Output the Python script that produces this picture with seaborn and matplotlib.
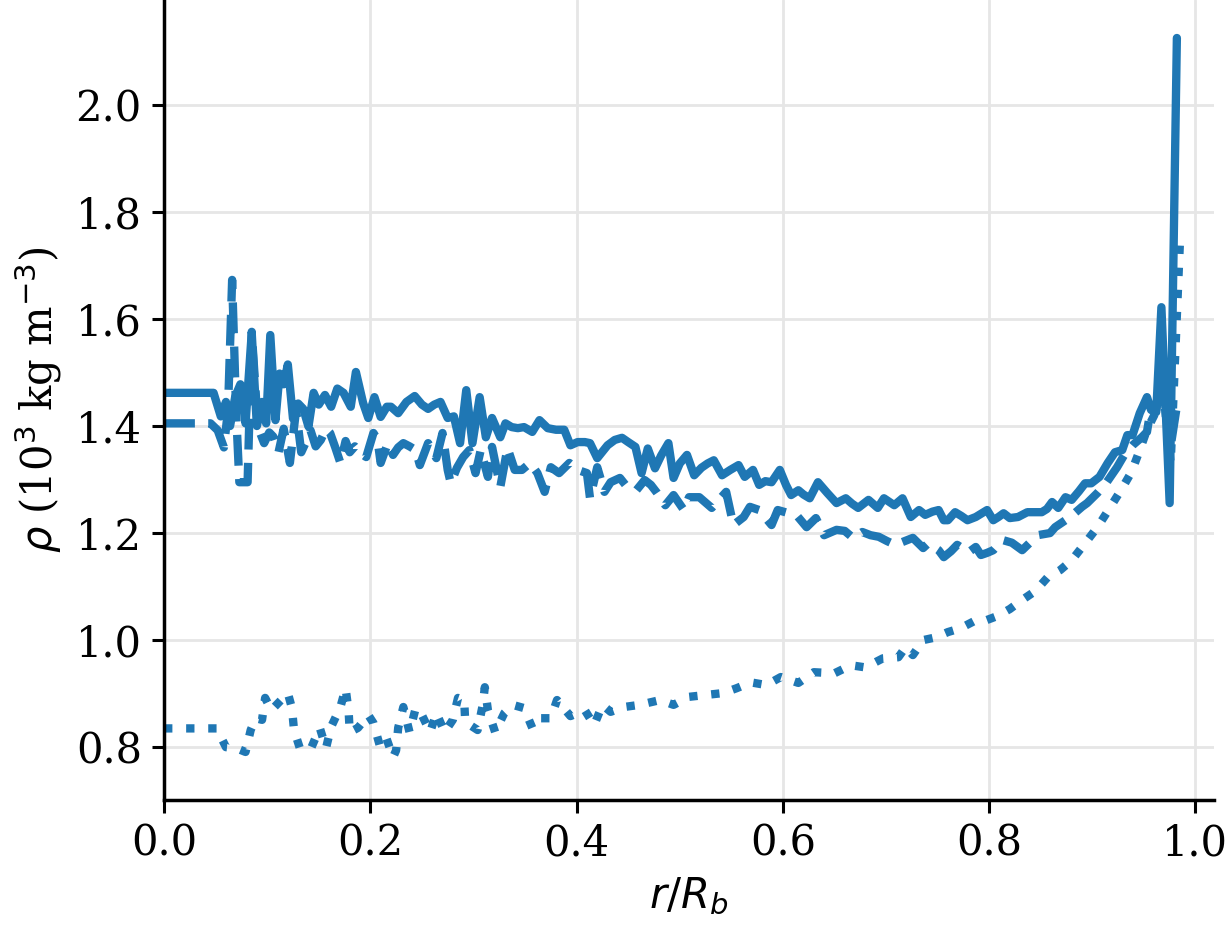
import matplotlib
matplotlib.use('Agg')
import matplotlib.pyplot as plt
import seaborn as sns

# radial density profiles
x_solid = [0.000, 0.048, 0.055, 0.060, 0.064, 0.069, 0.074, 0.079, 0.085, 0.090,
           0.095, 0.099, 0.103, 0.108, 0.112, 0.116, 0.120, 0.125, 0.130, 0.135,
           0.140, 0.145, 0.150, 0.156, 0.162, 0.168, 0.174, 0.181, 0.186, 0.193,
           0.198, 0.204, 0.210, 0.216, 0.220, 0.227, 0.235, 0.243, 0.250, 0.256,
           0.262, 0.268, 0.275, 0.281, 0.287, 0.293, 0.299, 0.306, 0.312, 0.318,
           0.326, 0.331, 0.337, 0.343, 0.349, 0.357, 0.364, 0.372, 0.380, 0.388,
           0.394, 0.401, 0.408, 0.413, 0.420, 0.425, 0.430, 0.437, 0.444, 0.450,
           0.457, 0.463, 0.469, 0.476, 0.482, 0.489, 0.494, 0.500, 0.507, 0.514,
           0.521, 0.527, 0.533, 0.541, 0.549, 0.557, 0.563, 0.571, 0.577, 0.583,
           0.589, 0.597, 0.603, 0.608, 0.615, 0.620, 0.626, 0.634, 0.643, 0.652,
           0.661, 0.667, 0.673, 0.683, 0.692, 0.698, 0.708, 0.716, 0.724, 0.732,
           0.738, 0.745, 0.751, 0.756, 0.760, 0.767, 0.773, 0.779, 0.787, 0.792,
           0.798, 0.804, 0.809, 0.814, 0.820, 0.828, 0.837, 0.844, 0.851, 0.856,
           0.861, 0.867, 0.874, 0.880, 0.887, 0.893, 0.899, 0.907, 0.915, 0.922,
           0.929, 0.934, 0.939, 0.946, 0.953, 0.957, 0.962, 0.967, 0.975, 0.982]
rho_solid = [1.462, 1.462, 1.418, 1.445, 1.400, 1.455, 1.478, 1.405, 1.574, 1.400,
             1.445, 1.405, 1.570, 1.411, 1.498, 1.478, 1.515, 1.414, 1.442, 1.432,
             1.399, 1.462, 1.440, 1.458, 1.436, 1.470, 1.462, 1.436, 1.501, 1.443,
             1.415, 1.454, 1.417, 1.436, 1.436, 1.424, 1.445, 1.456, 1.440, 1.432,
             1.440, 1.445, 1.415, 1.418, 1.368, 1.467, 1.368, 1.454, 1.379, 1.415,
             1.379, 1.405, 1.398, 1.396, 1.398, 1.389, 1.411, 1.396, 1.393, 1.393,
             1.364, 1.370, 1.370, 1.368, 1.340, 1.352, 1.364, 1.374, 1.378, 1.370,
             1.361, 1.312, 1.358, 1.321, 1.345, 1.368, 1.303, 1.330, 1.346, 1.308,
             1.322, 1.330, 1.336, 1.308, 1.318, 1.327, 1.305, 1.318, 1.290, 1.297,
             1.295, 1.318, 1.290, 1.271, 1.280, 1.272, 1.265, 1.295, 1.275, 1.256,
             1.265, 1.255, 1.247, 1.262, 1.247, 1.265, 1.252, 1.265, 1.230, 1.243,
             1.234, 1.240, 1.243, 1.224, 1.224, 1.239, 1.232, 1.224, 1.230, 1.236,
             1.243, 1.224, 1.230, 1.237, 1.228, 1.230, 1.239, 1.239, 1.239, 1.245,
             1.258, 1.247, 1.267, 1.262, 1.278, 1.293, 1.293, 1.305, 1.331, 1.351,
             1.355, 1.383, 1.383, 1.424, 1.454, 1.430, 1.426, 1.622, 1.256, 2.125]

x_dashed = [0.000, 0.045, 0.052, 0.058, 0.062, 0.066, 0.070, 0.073, 0.081, 0.085,
            0.091, 0.097, 0.102, 0.106, 0.111, 0.116, 0.122, 0.128, 0.133, 0.138,
            0.142, 0.147, 0.152, 0.157, 0.161, 0.166, 0.171, 0.176, 0.180, 0.185,
            0.190, 0.196, 0.203, 0.207, 0.210, 0.217, 0.222, 0.227, 0.232, 0.238,
            0.244, 0.248, 0.256, 0.264, 0.270, 0.275, 0.278, 0.284, 0.290, 0.296,
            0.302, 0.307, 0.314, 0.318, 0.326, 0.333, 0.340, 0.347, 0.355, 0.362,
            0.369, 0.375, 0.383, 0.393, 0.401, 0.410, 0.413, 0.420, 0.427, 0.433,
            0.442, 0.449, 0.458, 0.466, 0.472, 0.478, 0.486, 0.494, 0.504, 0.509,
            0.519, 0.531, 0.545, 0.552, 0.562, 0.568, 0.577, 0.589, 0.595, 0.606,
            0.613, 0.623, 0.632, 0.640, 0.652, 0.660, 0.668, 0.677, 0.685, 0.693,
            0.701, 0.709, 0.718, 0.726, 0.736, 0.741, 0.751, 0.756, 0.763, 0.769,
            0.780, 0.787, 0.792, 0.798, 0.804, 0.813, 0.822, 0.832, 0.840, 0.847,
            0.859, 0.864, 0.874, 0.881, 0.890, 0.895, 0.905, 0.914, 0.924, 0.931,
            0.939, 0.948, 0.953, 0.956, 0.962, 0.968, 0.975, 0.983]
rho_dashed = [1.405, 1.405, 1.392, 1.360, 1.430, 1.673, 1.420, 1.295, 1.295, 1.576,
              1.398, 1.368, 1.388, 1.380, 1.351, 1.395, 1.331, 1.430, 1.351, 1.372,
              1.392, 1.362, 1.374, 1.395, 1.387, 1.360, 1.331, 1.372, 1.351, 1.362,
              1.350, 1.342, 1.387, 1.374, 1.331, 1.368, 1.346, 1.360, 1.368, 1.362,
              1.355, 1.327, 1.368, 1.340, 1.387, 1.318, 1.293, 1.322, 1.342, 1.355,
              1.312, 1.355, 1.305, 1.361, 1.286, 1.359, 1.318, 1.318, 1.331, 1.312,
              1.277, 1.323, 1.312, 1.331, 1.318, 1.312, 1.265, 1.323, 1.277, 1.295,
              1.303, 1.286, 1.280, 1.299, 1.290, 1.275, 1.252, 1.271, 1.243, 1.267,
              1.267, 1.247, 1.277, 1.215, 1.230, 1.249, 1.243, 1.215, 1.243, 1.237,
              1.234, 1.211, 1.228, 1.196, 1.206, 1.204, 1.191, 1.202, 1.196, 1.193,
              1.185, 1.178, 1.185, 1.191, 1.172, 1.181, 1.168, 1.155, 1.166, 1.178,
              1.164, 1.174, 1.159, 1.163, 1.168, 1.187, 1.182, 1.168, 1.183, 1.196,
              1.200, 1.211, 1.224, 1.234, 1.249, 1.256, 1.275, 1.295, 1.323, 1.346,
              1.364, 1.379, 1.389, 1.424, 1.430, 1.500, 1.350, 1.450]

x_dotted = [0.000, 0.051, 0.060, 0.070, 0.079, 0.084, 0.089, 0.095, 0.098, 0.104,
            0.112, 0.120, 0.124, 0.126, 0.132, 0.143, 0.151, 0.157, 0.162, 0.171,
            0.176, 0.179, 0.180, 0.188, 0.198, 0.203, 0.209, 0.215, 0.222, 0.225,
            0.227, 0.232, 0.238, 0.244, 0.249, 0.258, 0.264, 0.272, 0.280, 0.285,
            0.291, 0.292, 0.304, 0.309, 0.311, 0.314, 0.321, 0.330, 0.338, 0.349,
            0.357, 0.364, 0.375, 0.381, 0.394, 0.408, 0.417, 0.425, 0.433, 0.446,
            0.461, 0.481, 0.494, 0.509, 0.523, 0.542, 0.555, 0.569, 0.584, 0.598,
            0.615, 0.630, 0.650, 0.666, 0.680, 0.697, 0.712, 0.719, 0.726, 0.736,
            0.748, 0.760, 0.772, 0.785, 0.797, 0.808, 0.820, 0.832, 0.845, 0.857,
            0.869, 0.880, 0.893, 0.905, 0.917, 0.929, 0.938, 0.946, 0.953, 0.960,
            0.968, 0.976, 0.985]
rho_dotted = [0.835, 0.835, 0.800, 0.798, 0.791, 0.832, 0.854, 0.851, 0.892, 0.869,
              0.885, 0.901, 0.873, 0.832, 0.796, 0.800, 0.836, 0.798, 0.838, 0.875,
              0.910, 0.866, 0.828, 0.836, 0.860, 0.845, 0.804, 0.820, 0.781, 0.794,
              0.836, 0.875, 0.828, 0.873, 0.864, 0.828, 0.864, 0.828, 0.851, 0.892,
              0.888, 0.847, 0.832, 0.879, 0.912, 0.869, 0.828, 0.864, 0.879, 0.873,
              0.836, 0.854, 0.854, 0.888, 0.858, 0.869, 0.841, 0.879, 0.866, 0.875,
              0.879, 0.888, 0.879, 0.894, 0.897, 0.901, 0.910, 0.921, 0.916, 0.931,
              0.920, 0.940, 0.938, 0.953, 0.949, 0.966, 0.968, 0.987, 0.972, 1.000,
              1.005, 1.015, 1.022, 1.035, 1.037, 1.045, 1.058, 1.075, 1.092, 1.118,
              1.131, 1.149, 1.181, 1.211, 1.247, 1.284, 1.314, 1.355, 1.393, 1.420,
              1.480, 1.330, 1.745]

sns.set_style('ticks', {'axes.grid': True, 'grid.color': '#e6e6e6'})
plt.rcParams['font.family'] = ['DejaVu Serif']
plt.rcParams['mathtext.fontset'] = 'dejavusans'
plt.rcParams['axes.linewidth'] = 1.25
for key in ['text.color', 'axes.labelcolor', 'xtick.color', 'ytick.color', 'axes.edgecolor']:
    plt.rcParams[key] = 'black'

blue = '#1f77b4'
fig = plt.figure(figsize=(6.14, 4.625), dpi=200)
ax = fig.add_axes([0.1336, 0.135, 0.855, 0.865])

sns.lineplot(x=x_solid, y=rho_solid, ax=ax, color=blue, linewidth=3, linestyle='-', sort=False)
sns.lineplot(x=x_dashed, y=rho_dashed, ax=ax, color=blue, linewidth=3, linestyle='--', sort=False)
sns.lineplot(x=x_dotted, y=rho_dotted, ax=ax, color=blue, linewidth=3, linestyle=':', sort=False)

ax.grid(True, color='#e6e6e6', linewidth=1.0)
ax.set_axisbelow(True)
ax.set_xlim(0, 1.018)
ax.set_ylim(0.701, 2.196)
ax.set_xticks([0.0, 0.2, 0.4, 0.6, 0.8, 1.0])
ax.set_yticks([0.8, 1.0, 1.2, 1.4, 1.6, 1.8, 2.0])
ax.tick_params(axis='both', labelsize=15, length=4.5, width=1.1, direction='out')
ax.set_xlabel(r'$r/R_b$', fontsize=15)
ax.set_ylabel(r'$\rho$ (10$^3$ kg m$^{-3}$)', fontsize=15)
sns.despine(ax=ax)

fig.savefig('out.png', dpi=200)
